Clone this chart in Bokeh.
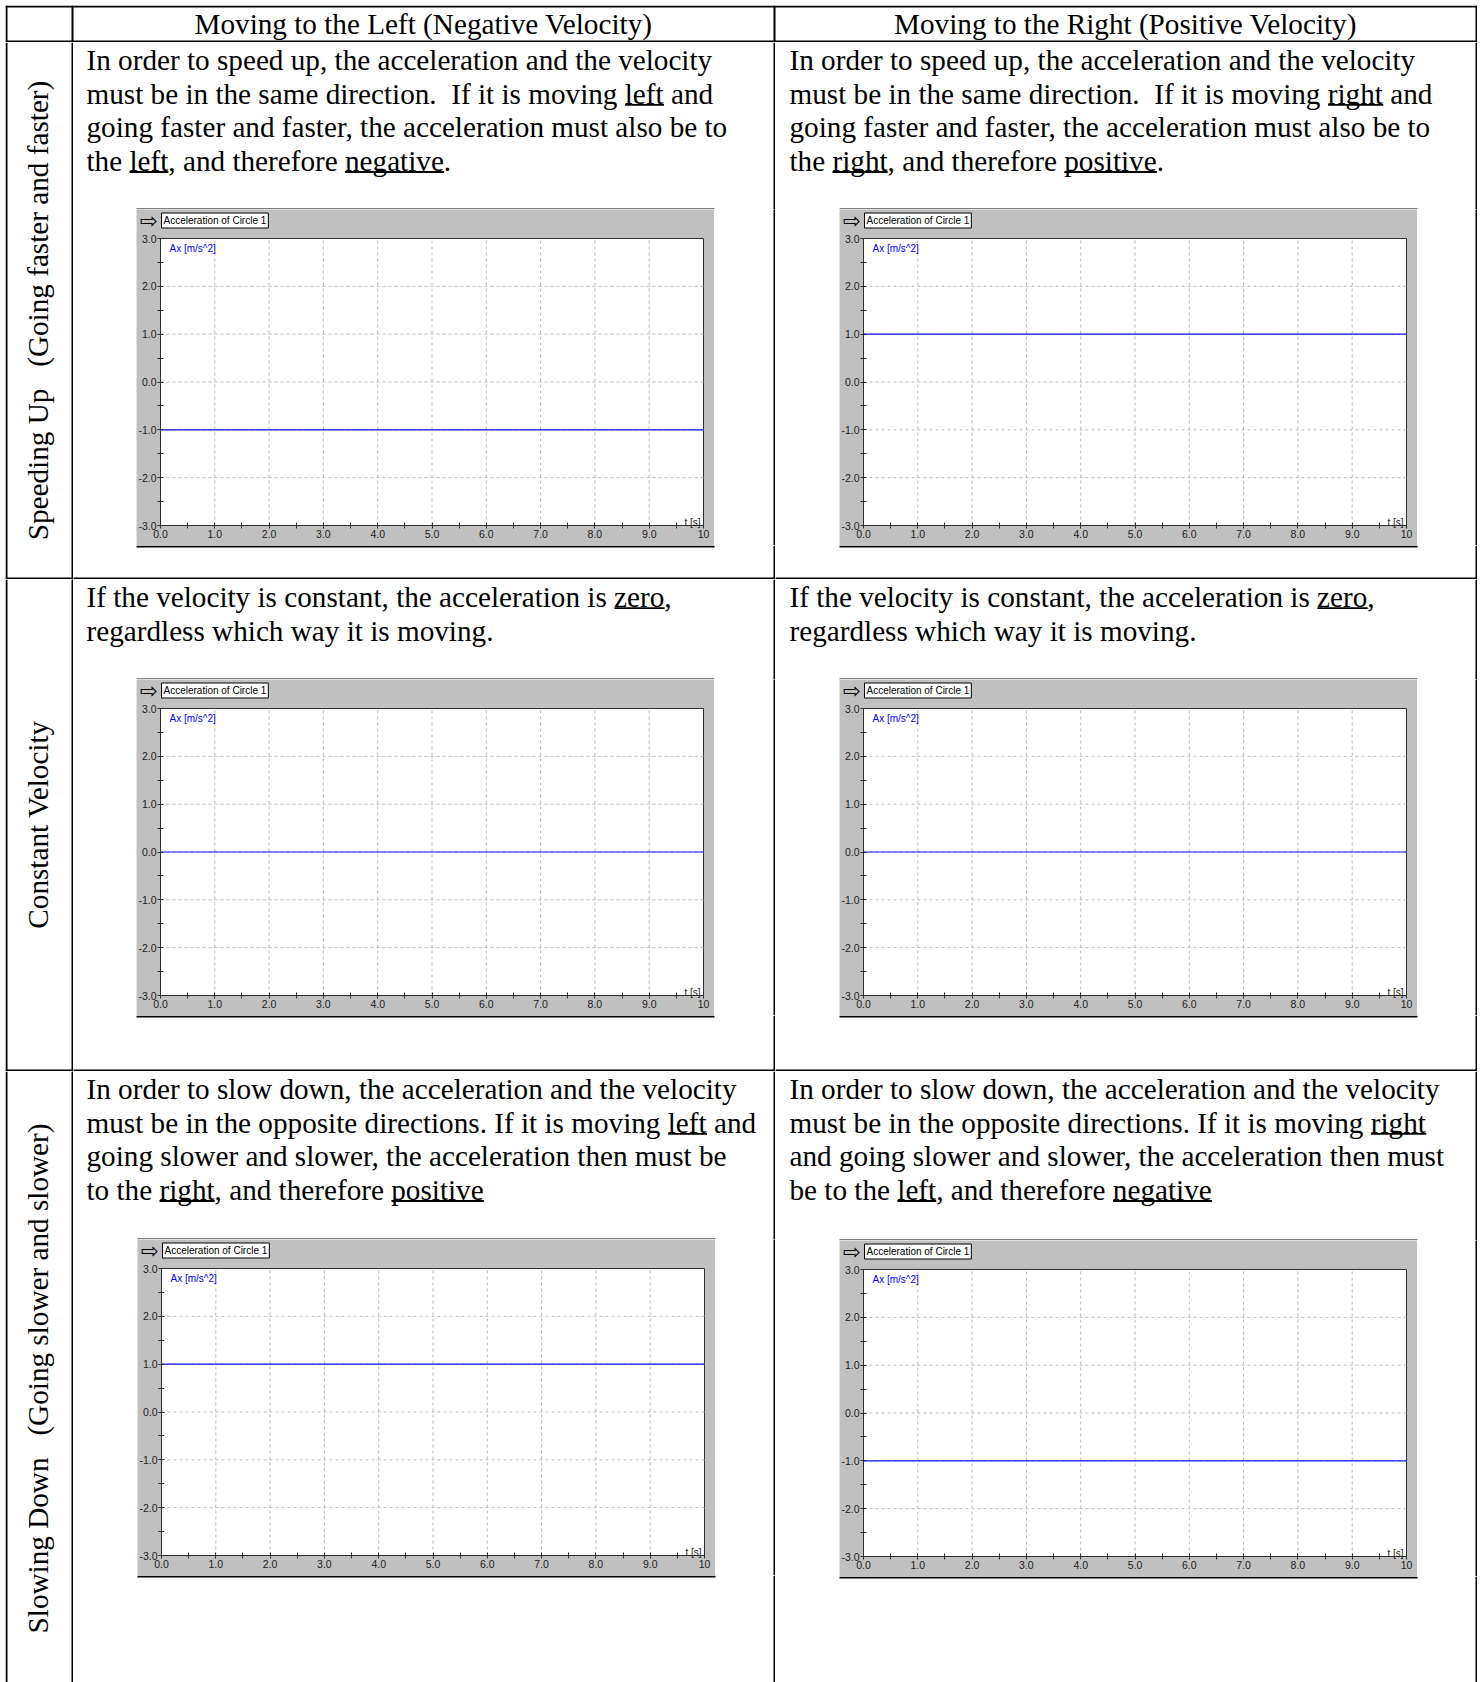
import math
from bokeh.plotting import figure
from bokeh.layouts import row, column
from bokeh.models import Range1d, FixedTicker, Label, Spacer
from bokeh.core.properties import value
from bokeh.embed import file_html
from bokeh.resources import INLINE

# ---------------- data ----------------
col_headers = ["Moving to the Left (Negative Velocity)",
               "Moving to the Right (Positive Velocity)"]
row_labels = ["Speeding Up\u00a0\u00a0 (Going faster and faster)",
              "Constant Velocity",
              "Slowing Down\u00a0\u00a0 (Going slower and slower)"]

# words between underscores are underlined
text_speed_left = [
    "In order to speed up, the acceleration and the velocity",
    "must be in the same direction.  If it is moving _left_ and",
    "going faster and faster, the acceleration must also be to",
    "the _left_, and therefore _negative_.",
]
text_speed_right = [
    "In order to speed up, the acceleration and the velocity",
    "must be in the same direction.  If it is moving _right_ and",
    "going faster and faster, the acceleration must also be to",
    "the _right_, and therefore _positive_.",
]
text_const = [
    "If the velocity is constant, the acceleration is _zero_,",
    "regardless which way it is moving.",
]
text_slow_left = [
    "In order to slow down, the acceleration and the velocity",
    "must be in the opposite directions. If it is moving _left_ and",
    "going slower and slower, the acceleration then must be",
    "to the _right_, and therefore _positive_",
]
text_slow_right = [
    "In order to slow down, the acceleration and the velocity",
    "must be in the opposite directions. If it is moving _right_",
    "and going slower and slower, the acceleration then must",
    "be to the _left_, and therefore _negative_",
]
cell_texts = [[text_speed_left, text_speed_right],
              [text_const, text_const],
              [text_slow_left, text_slow_right]]

# acceleration (m/s^2) shown in each chart, row by row (left, right)
accel_values = [[-1.0, 1.0], [0.0, 0.0], [1.0, -1.0]]
time_span = [0.0, 10.0]

x_tick_values = [0, 1, 2, 3, 4, 5, 6, 7, 8, 9, 10]
x_tick_labels = ["0.0", "1.0", "2.0", "3.0", "4.0", "5.0", "6.0", "7.0", "8.0", "9.0", "10"]
x_minor_values = [0.5, 1.5, 2.5, 3.5, 4.5, 5.5, 6.5, 7.5, 8.5, 9.5]
y_tick_values = [-3, -2, -1, 0, 1, 2, 3]
y_tick_labels = ["-3.0", "-2.0", "-1.0", "0.0", "1.0", "2.0", "3.0"]
y_minor_values = [-2.5, -1.5, -0.5, 0.5, 1.5, 2.5]

chart_title = "Acceleration of Circle 1"
y_name = "Ax [m/s^2]"
x_name = "t [s]"

# ---------------- layout constants ----------------
OFF = 5
LABEL_W = 68
CELL_W = [702, 702]
HEADER_H = 37
ROW_H = [537, 492, 611]
CHART_W, CHART_H = 578, 336
PL, PR, PT, PB = 24, 11, 29, 20          # plot-area insets inside the grey panel
CHART_TOP = [[167, 167], [100, 100], [168, 169]]
CHART_LEFT = [[63, 64], [63, 64], [64, 64]]
LABEL_CX = 32.3
LABEL_CY = [268, 245, 307]
TEXT_X = [13, 14]
BASE0 = 25.7
LINE_H = 33.6
FS = 29.2
D_ALPHA = 8.0     # rendered alphabetic baseline sits this much below the requested y
SERIF = "Liberation Serif"
SANS = "Liberation Sans"
LW = 2

TIMES = {' ': 250, '\u00a0': 250, ',': 250, '.': 250, '(': 333, ')': 333, "'": 333, '-': 333,
         'A': 722, 'B': 667, 'C': 667, 'D': 722, 'E': 611, 'F': 556, 'G': 722, 'H': 722, 'I': 333,
         'J': 389, 'K': 722, 'L': 611, 'M': 889, 'N': 722, 'O': 722, 'P': 556, 'Q': 722, 'R': 667,
         'S': 556, 'T': 611, 'U': 722, 'V': 722, 'W': 944, 'X': 722, 'Y': 722, 'Z': 611,
         'a': 444, 'b': 500, 'c': 444, 'd': 500, 'e': 444, 'f': 333, 'g': 500, 'h': 500, 'i': 278,
         'j': 278, 'k': 500, 'l': 278, 'm': 778, 'n': 500, 'o': 500, 'p': 500, 'q': 500, 'r': 333,
         's': 389, 't': 278, 'u': 500, 'v': 500, 'w': 722, 'x': 500, 'y': 500, 'z': 444}


def tw(s):
    return sum(TIMES.get(ch, 500) for ch in s) * FS / 1000.0


def blank(w, h, fill="white"):
    p = figure(width=w, height=h, x_range=Range1d(0, w), y_range=Range1d(h, 0),
               toolbar_location=None, output_backend="svg", title=None, min_border=0,
               x_axis_type=None, y_axis_type=None, outline_line_color=None,
               background_fill_color=fill, border_fill_color=fill)
    p.grid.visible = False
    return p


def draw_segments(p, segs, width=LW):
    if not segs:
        return
    x0, y0, x1, y1 = zip(*segs)
    p.segment(x0=list(x0), y0=list(y0), x1=list(x1), y1=list(y1),
              line_color="black", line_width=width)


def draw_lines_text(p, lines, x0, base0):
    xs, ys, ts, useg = [], [], [], []
    for i, ln in enumerate(lines):
        y = base0 + i * LINE_H
        parts = ln.split("_")
        plain = "".join(parts).replace("  ", "\u00a0 ")
        xs.append(x0)
        ys.append(y - D_ALPHA)
        ts.append(plain)
        cx = x0
        for k, part in enumerate(parts):
            wp = tw(part)
            if k % 2 == 1:
                useg.append((cx, y + 3.0, cx + wp, y + 3.0))
            cx += wp
    p.text(x=xs, y=ys, text=ts, text_font=value(SERIF), text_font_size=value(f"{FS}px"),
           text_baseline="alphabetic", text_align="left", text_color="black")
    draw_segments(p, useg, width=1.8)


def make_chart(acc):
    x0, x1 = x_tick_values[0], x_tick_values[-1]
    y0, y1 = y_tick_values[0], y_tick_values[-1]
    ux = (x1 - x0) / float(CHART_W - PL - PR)
    uy = (y1 - y0) / float(CHART_H - PT - PB)
    p = figure(width=CHART_W, height=CHART_H,
               x_range=Range1d(x0 - PL * ux, x1 + PR * ux),
               y_range=Range1d(y0 - PB * uy, y1 + PT * uy),
               toolbar_location=None, output_backend="svg", title=None, min_border=0,
               background_fill_color="#c0c0c0", border_fill_color="#c0c0c0",
               outline_line_color=None)
    p.grid.visible = False
    # plot area
    p.quad(left=[x0], right=[x1], bottom=[y0], top=[y1], fill_color="white",
           line_color="#303030", line_width=1)
    # dashed grid at the inner ticks
    gx = x_tick_values[1:-1]
    gy = y_tick_values[1:-1]
    p.segment(x0=gx, y0=[y0] * len(gx), x1=gx, y1=[y1] * len(gx),
              line_color="#b8b8b8", line_width=1, line_dash="3 3")
    p.segment(x0=[x0] * len(gy), y0=gy, x1=[x1] * len(gy), y1=gy,
              line_color="#b8b8b8", line_width=1, line_dash="3 3")
    # data
    p.line(time_span, [acc, acc], line_color="#1010ff", line_width=1.2)
    # axes fixed on the plot-area edges
    specs = ((p.xaxis[0], x_tick_values, x_minor_values, x_tick_labels, y0, (x0, x1)),
             (p.yaxis[0], y_tick_values, y_minor_values, y_tick_labels, x0, (y0, y1)))
    for ax, ticks, minor, labs, loc, bnds in specs:
        ax.fixed_location = loc
        ax.bounds = bnds
        ax.ticker = FixedTicker(ticks=ticks, minor_ticks=minor)
        ax.major_label_overrides = dict(zip(ticks, labs))
        ax.major_label_text_font = SANS
        ax.major_label_text_font_size = "10.5px"
        ax.major_label_text_color = "#202020"
        ax.major_label_standoff = 1
        ax.major_tick_in = 3
        ax.major_tick_out = 3
        ax.minor_tick_in = 3
        ax.minor_tick_out = 3
        ax.axis_line_color = "#303030"
        ax.major_tick_line_color = "#303030"
        ax.minor_tick_line_color = "#303030"
    # texts of the panel
    p.add_layout(Label(x=x0 + 1 * ux, y=y1 + 18 * uy, text=chart_title,
                       text_font=SANS, text_font_size="10px", text_color="black",
                       text_baseline="middle", background_fill_color="white",
                       border_line_color="black", border_line_width=1, padding=2))
    p.add_layout(Label(x=x0 - 12 * ux, y=y1 + 18 * uy, text="\u21e8",
                       text_font="DejaVu Sans", text_font_size="21px", text_color="black",
                       text_align="center", text_baseline="middle"))
    p.add_layout(Label(x=x0 + 9 * ux, y=y1 - 4 * uy, text=y_name, text_font=SANS,
                       text_font_size="10px", text_color="#0000ff", text_baseline="top"))
    p.add_layout(Label(x=x1 - 3 * ux, y=y0 + 3 * uy, text=x_name, text_font=SANS,
                       text_font_size="10px", text_color="#202020", text_align="right",
                       text_baseline="alphabetic"))
    return p


# ---------------- header ----------------
TOTAL_W = LABEL_W + CELL_W[0] + CELL_W[1]
header = blank(TOTAL_W, HEADER_H)
vx = [1, LABEL_W - 1, LABEL_W + CELL_W[0] - 1, TOTAL_W - 1]
draw_segments(header, [(0, 1, TOTAL_W, 1), (0, HEADER_H - 1, TOTAL_W, HEADER_H - 1)] +
              [(x, 0, x, HEADER_H) for x in vx])
header.text(x=[(LABEL_W + LABEL_W + CELL_W[0] - 2) / 2.0,
               (LABEL_W + CELL_W[0] + TOTAL_W - 2) / 2.0],
            y=[26.5 - D_ALPHA] * 2, text=col_headers, text_font=value(SERIF),
            text_font_size=value(f"{FS}px"), text_baseline="alphabetic",
            text_align="center", text_color="black")

rows = [header]
for r in range(3):
    H = ROW_H[r]
    last = (r == 2)
    lab = blank(LABEL_W, H)
    segs = [(1, 0, 1, H), (LABEL_W - 1, 0, LABEL_W - 1, H)]
    if not last:
        segs.append((0, H - 1, LABEL_W, H - 1))
    draw_segments(lab, segs)
    lab.text(x=[LABEL_CX], y=[LABEL_CY[r]], text=[row_labels[r]], angle=math.pi / 2,
             text_font=value(SERIF), text_font_size=value(f"{FS}px"),
             text_baseline="middle", text_align="center", text_color="black")
    cells = [lab]
    for c in range(2):
        w = CELL_W[c]
        a = CHART_LEFT[r][c]
        th = CHART_TOP[r][c]
        bh = H - th - CHART_H
        tfig = blank(w, th)
        draw_lines_text(tfig, cell_texts[r][c], TEXT_X[c], BASE0)
        draw_segments(tfig, [(w - 1, 0, w - 1, th)])
        draw_segments(tfig, [(a, th - 0.5, a + CHART_W, th - 0.5)], width=1)
        chart = make_chart(accel_values[r][c])
        bar = blank(LW, CHART_H, fill="black")
        mid = row(Spacer(width=a, height=CHART_H), chart,
                  Spacer(width=w - a - CHART_W - LW, height=CHART_H), bar, spacing=0)
        bfig = blank(w, bh)
        bsegs = [(w - 1, 0, w - 1, bh)]
        if not last:
            bsegs.append((0, bh - 1, w, bh - 1))
        draw_segments(bfig, bsegs)
        draw_segments(bfig, [(a, 1, a + CHART_W, 1)], width=2)
        cells.append(column(tfig, mid, bfig, spacing=0))
    rows.append(row(*cells, spacing=0))

table = column(*rows, spacing=0)
page = column(Spacer(width=OFF + TOTAL_W, height=OFF),
              row(Spacer(width=OFF, height=HEADER_H + sum(ROW_H)), table, spacing=0),
              spacing=0)
open("out.html", "w").write(file_html(page, INLINE))
